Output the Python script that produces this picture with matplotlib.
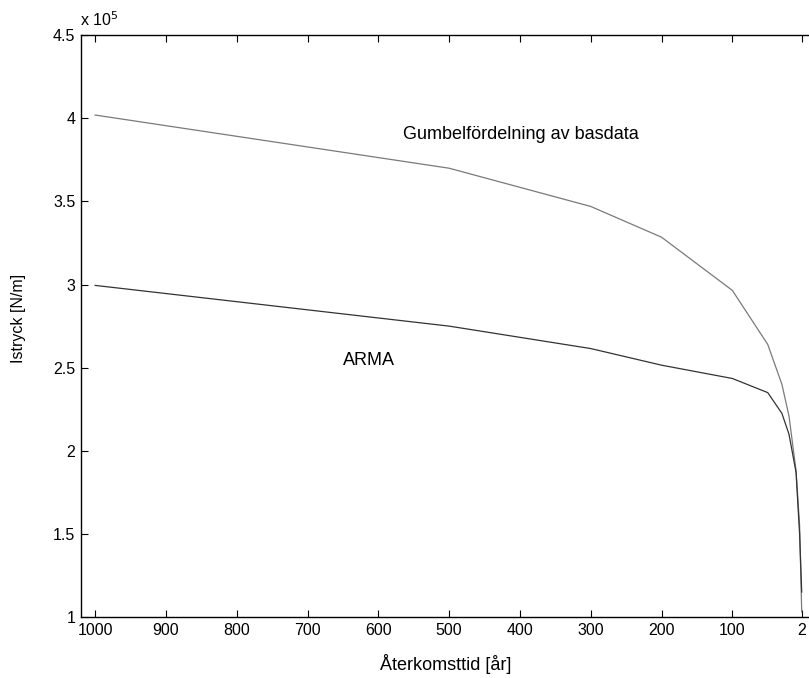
import matplotlib
matplotlib.use("Agg")
import matplotlib.pyplot as plt

plt.rcParams['font.family'] = ['Liberation Sans', 'DejaVu Sans']

# Return period [years]
return_period = [1000, 500, 300, 200, 100, 50, 30, 20, 10, 5, 2]
# Ice pressure, units of 1e5 N/m
gumbel = [4.02, 3.70, 3.47, 3.285, 2.965, 2.64, 2.40, 2.21, 1.88, 1.55, 1.03]
arma = [2.995, 2.75, 2.615, 2.515, 2.435, 2.35, 2.225, 2.10, 1.87, 1.50, 1.15]

xticks = [1000, 900, 800, 700, 600, 500, 400, 300, 200, 100, 2]
yticks = [1, 1.5, 2, 2.5, 3, 3.5, 4, 4.5]

fig = plt.figure(figsize=(8.09, 6.78), dpi=100)
ax = fig.add_axes([0.1001, 0.090, 0.9014, 0.858])

ax.plot(return_period, gumbel, color='#7a7a7a', lw=0.9)
ax.plot(return_period, arma, color='#333333', lw=0.9)

ax.set_xlim(1020, -10)
ax.set_ylim(1, 4.5)
ax.set_xticks(xticks)
ax.set_xticklabels([str(t) for t in xticks])
ax.set_yticks(yticks)
ax.set_yticklabels([('%g' % t) for t in yticks])
ax.tick_params(direction='in', top=True, right=False, length=5, width=0.8,
               labelsize=11.5, pad=4)
ax.spines['right'].set_visible(False)
for s in ax.spines.values():
    s.set_linewidth(1.0)

ax.set_xlabel('Återkomsttid [år]', fontsize=13, labelpad=12)
fig.text(19 / 809, 1 - 318 / 678, 'Istryck [N/m]', fontsize=11.5,
         rotation=90, ha='center', va='center')

ax.text(565, 3.90, 'Gumbelfördelning av basdata', fontsize=13, va='center', ha='left')
ax.text(650, 2.545, 'ARMA', fontsize=13, va='center', ha='left')

fig.text(80 / 809, 1 - 20 / 678, r'x 10$^5$', fontsize=11.5, va='center', ha='left')

fig.savefig('out.png', dpi=100)
